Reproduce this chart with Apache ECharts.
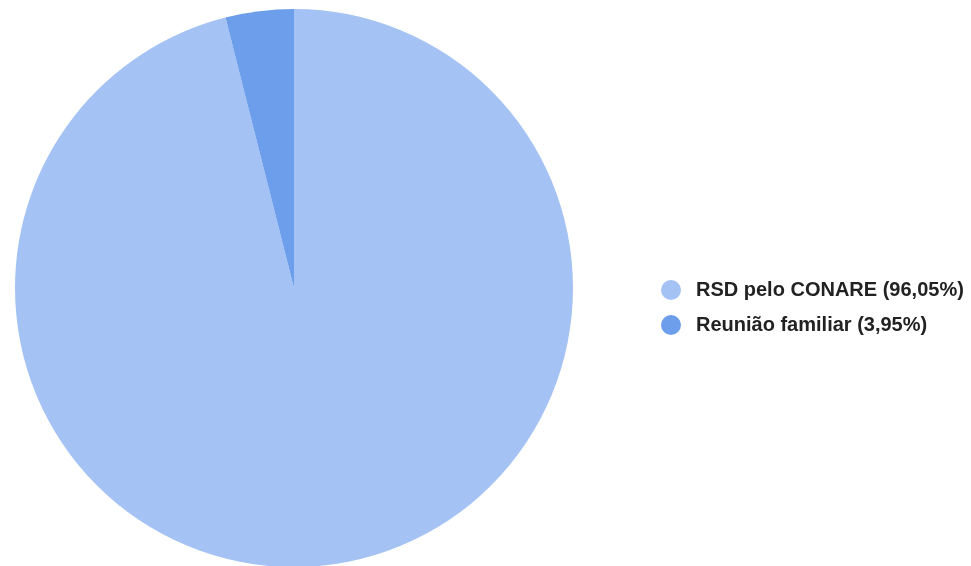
<!DOCTYPE html>
<html>
<head>
<meta charset="utf-8">
<script src="https://cdn.jsdelivr.net/npm/echarts@6/dist/echarts.min.js"></script>
<style>
  html, body { margin: 0; padding: 0; background: #fff; }
  #chart { width: 971px; height: 566px; }
</style>
</head>
<body>
<div id="chart"></div>
<script>
// Share of cases by procedure type
const categories = ['RSD pelo CONARE', 'Reunião familiar'];
const shares = [96.05, 3.95];
const colors = ['#a4c2f4', '#6d9eeb'];

const fmt = v => v.toFixed(2).replace('.', ',');

const chart = echarts.init(document.getElementById('chart'));
chart.setOption({
  animation: false,
  color: colors,
  legend: {
    orient: 'vertical',
    left: 656,
    top: 275,
    icon: 'circle',
    itemWidth: 40,
    itemHeight: 20,
    itemGap: 15,
    textStyle: {
      fontFamily: 'Liberation Sans, Arial, sans-serif',
      fontWeight: 'bold',
      fontSize: 20,
      color: '#222'
    },
    formatter: name => {
      const i = categories.indexOf(name);
      return name + ' (' + fmt(shares[i]) + '%)';
    }
  },
  series: [{
    type: 'pie',
    center: [294, 288],
    radius: 279,
    startAngle: 90,
    clockwise: true,
    label: { show: false },
    labelLine: { show: false },
    itemStyle: { borderWidth: 0 },
    data: categories.map((c, i) => ({ name: c, value: shares[i] }))
  }]
});
</script>
</body>
</html>
